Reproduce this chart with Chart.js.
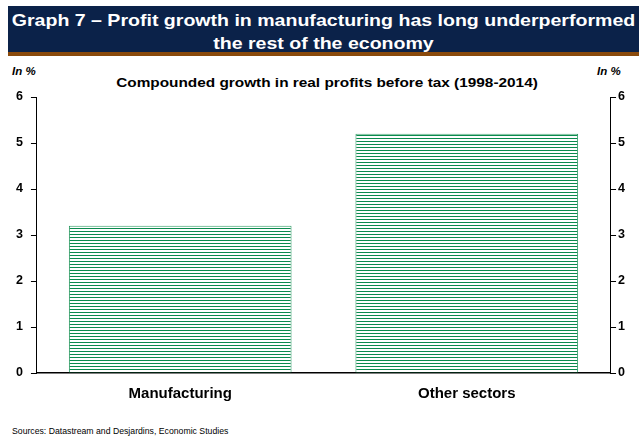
<!DOCTYPE html>
<html>
<head>
<meta charset="utf-8">
<script src="https://cdn.jsdelivr.net/npm/chart.js@4/dist/chart.umd.min.js"></script>
<style>
  html, body { margin:0; padding:0; background:#fff; width:639px; height:439px; overflow:hidden; font-family:"Liberation Sans", Arial, sans-serif; }
  #hdr { position:absolute; left:8px; top:6px; width:631px; height:46px; background:#0b2249; }
  #hdrtxt { position:absolute; left:8px; top:9px; width:631px; color:#fff; font-weight:bold; font-size:17px; line-height:23px; text-align:center; transform:scaleX(1.15); transform-origin:50% 50%; }
  #brown { position:absolute; left:8px; top:52px; width:631px; height:4px; background:#8a4a0c; }
  .unit { position:absolute; top:65px; font-size:11.5px; font-weight:bold; font-style:italic; }
  #sub { position:absolute; top:76px; left:0; width:654px; text-align:center; font-size:12px; font-weight:bold; transform:scaleX(1.28); transform-origin:50% 50%; }
  #src { position:absolute; left:12px; top:426px; font-size:8.7px; color:#000; }
  #wrap { position:absolute; left:0; top:0; width:639px; height:439px; }
</style>
</head>
<body>
<div id="hdr"></div>
<div id="hdrtxt">Graph 7 – Profit growth in manufacturing has long underperformed<br>the rest of the economy</div>
<div id="brown"></div>
<div class="unit" style="left:12px;">In %</div>
<div class="unit" style="left:597px;">In %</div>
<div id="sub">Compounded growth in real profits before tax (1998-2014)</div>
<div id="src">Sources: Datastream and Desjardins, Economic Studies</div>
<div id="wrap"><canvas id="c" width="639" height="439"></canvas></div>
<script>
const categories = ["Manufacturing", "Other sectors"];
const growthValues = [3.2, 5.2];
const yTicks = [0, 1, 2, 3, 4, 5, 6];

function makePattern() {
  const p = document.createElement('canvas');
  p.width = 4; p.height = 3;
  const g = p.getContext('2d');
  g.fillStyle = '#ffffff';
  g.fillRect(0, 0, 4, 3);
  g.fillStyle = '#0b8a4e';
  g.fillRect(0, 0, 4, 1);
  return g.createPattern(p, 'repeat');
}

const ctx = document.getElementById('c').getContext('2d');
const tickFont = { family: '"Liberation Sans", Arial, sans-serif', size: 12.5, weight: 'bold' };
new Chart(ctx, {
  type: 'bar',
  data: {
    labels: categories,
    datasets: [{
      data: growthValues,
      backgroundColor: makePattern(),
      borderColor: '#2e9a64',
      borderWidth: { left: 1, right: 1, top: 1, bottom: 0 },
      borderSkipped: 'bottom',
      categoryPercentage: 0.777,
      barPercentage: 1.0,
      yAxisID: 'y'
    }]
  },
  options: {
    responsive: false,
    animation: false,
    devicePixelRatio: 1,
    layout: { padding: { top: 97, left: 8, right: 12, bottom: 24 } },
    plugins: { legend: { display: false }, title: { display: false }, tooltip: { enabled: false } },
    scales: {
      x: {
        grid: { display: false, drawTicks: false },
        border: { display: true, color: '#000', width: 1.5 },
        ticks: { color: '#000', font: { family: tickFont.family, size: 15, weight: 'bold' }, padding: 12 }
      },
      y: {
        position: 'left',
        min: 0, max: 6,
        afterBuildTicks: (a) => { a.ticks = yTicks.map(v => ({ value: v })); },
        grid: { drawOnChartArea: false, drawTicks: true, tickLength: 6, color: '#000' },
        border: { display: true, color: '#000', width: 1 },
        ticks: { color: '#000', font: tickFont, padding: 8 }
      },
      y2: {
        position: 'right',
        min: 0, max: 6,
        afterBuildTicks: (a) => { a.ticks = yTicks.map(v => ({ value: v })); },
        grid: { drawOnChartArea: false, drawTicks: true, tickLength: 6, color: '#000' },
        border: { display: true, color: '#000', width: 1 },
        ticks: { color: '#000', font: tickFont, padding: 2 }
      }
    }
  }
});
</script>
</body>
</html>
